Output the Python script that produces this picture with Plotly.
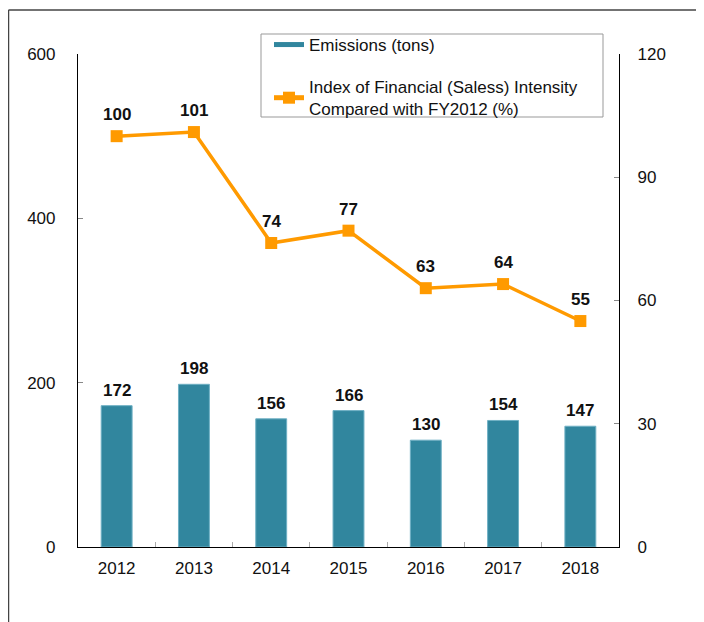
import plotly.graph_objects as go

years = ["2012", "2013", "2014", "2015", "2016", "2017", "2018"]
emissions = [172, 198, 156, 166, 130, 154, 147]
intensity = [100, 101, 74, 77, 63, 64, 55]
left_ticks = [0, 200, 400, 600]
right_ticks = [0, 30, 60, 90, 120]

# the page body adds an 8px offset; coordinates below are in figure pixels
W, H = 704, 622
L, R, T, B = 70, 93, 46, 83
pw, ph = W - L - R, H - T - B


def px(x):
    return (x - L) / pw


def py(y):
    return 1 - (y - T) / ph


FONT = "Liberation Sans, Arial, sans-serif"
BAR_C = "#31869E"
LINE_C = "#FF9A00"

fig = go.Figure()
fig.add_trace(go.Bar(
    x=years, y=emissions, name="Emissions (tons)",
    marker=dict(color=BAR_C, line=dict(color="#6FB0C4", width=1)),
    width=0.4, yaxis="y", showlegend=False,
))
# legend entry drawn as a flat wide bar symbol
fig.add_trace(go.Scatter(
    x=[None], y=[None], mode="lines", name="Emissions (tons)",
    line=dict(color=BAR_C, width=8), legendgroup="a", hoverinfo="skip",
))
fig.add_trace(go.Scatter(
    x=years, y=intensity, yaxis="y2", mode="lines+markers",
    name="Index of Financial (Saless) Intensity<br>Compared with FY2012 (%)",
    line=dict(color=LINE_C, width=3.5),
    marker=dict(symbol="square", size=12, color=LINE_C),
    legendgroup="b",
))

for i, v in enumerate(emissions):
    fig.add_annotation(x=i, y=v, xref="x", yref="y", text=f"<b>{v}</b>", showarrow=False,
                       yanchor="bottom", yshift=4, font=dict(size=17, color="#111", family=FONT))
for i, v in enumerate(intensity):
    fig.add_annotation(x=i, y=v, xref="x", yref="y2", text=f"<b>{v}</b>", showarrow=False,
                       yanchor="bottom", yshift=10, font=dict(size=17, color="#111", family=FONT))

# outer frame lines (top and left)
x_left = px(0.5)
y_top = py(2)
fig.add_shape(type="line", xref="paper", yref="paper", x0=x_left, x1=px(W),
              y0=y_top, y1=y_top, line=dict(color="#444", width=1.5))
fig.add_shape(type="line", xref="paper", yref="paper", x0=x_left, x1=x_left,
              y0=y_top, y1=py(H + 5), line=dict(color="#444", width=1.5))
# legend frame
fig.add_shape(type="rect", xref="paper", yref="paper", x0=px(253), x1=px(595),
              y0=py(109), y1=py(26), line=dict(color="#999", width=1),
              fillcolor="white", layer="above")

fig.update_layout(
    width=W, height=H,
    margin=dict(l=L, r=R, t=T, b=B, autoexpand=False),
    paper_bgcolor="white", plot_bgcolor="white",
    font=dict(family=FONT, size=17, color="#111"),
    showlegend=True,
    legend=dict(x=px(261), y=py(19), xanchor="left", yanchor="top",
                borderwidth=0, bgcolor="rgba(0,0,0,0)",
                font=dict(size=17, family=FONT), tracegroupgap=17, itemsizing="constant"),
    bargap=0.6,
    xaxis=dict(type="category", range=[-0.5, len(years) - 0.5], showline=True,
               linecolor="black", linewidth=1.2,
               ticks="inside", tickson="boundaries", ticklen=5, tickcolor="#aaa",
               showgrid=False, tickfont=dict(size=17), ticklabelstandoff=5, tickangle=0),
    yaxis=dict(range=[0, 600], tickvals=left_ticks, showline=True, linecolor="black",
               linewidth=1.2, ticks="inside", ticklen=5, tickcolor="#888", showgrid=False,
               zeroline=False, tickfont=dict(size=17), ticklabelstandoff=18),
    yaxis2=dict(range=[0, 120], tickvals=right_ticks, overlaying="y", side="right",
                showline=True, linecolor="black", linewidth=1.2, ticks="inside",
                ticklen=5, tickcolor="#888", showgrid=False, zeroline=False,
                tickfont=dict(size=17), ticklabelstandoff=14),
)

fig.write_html("out.html")
